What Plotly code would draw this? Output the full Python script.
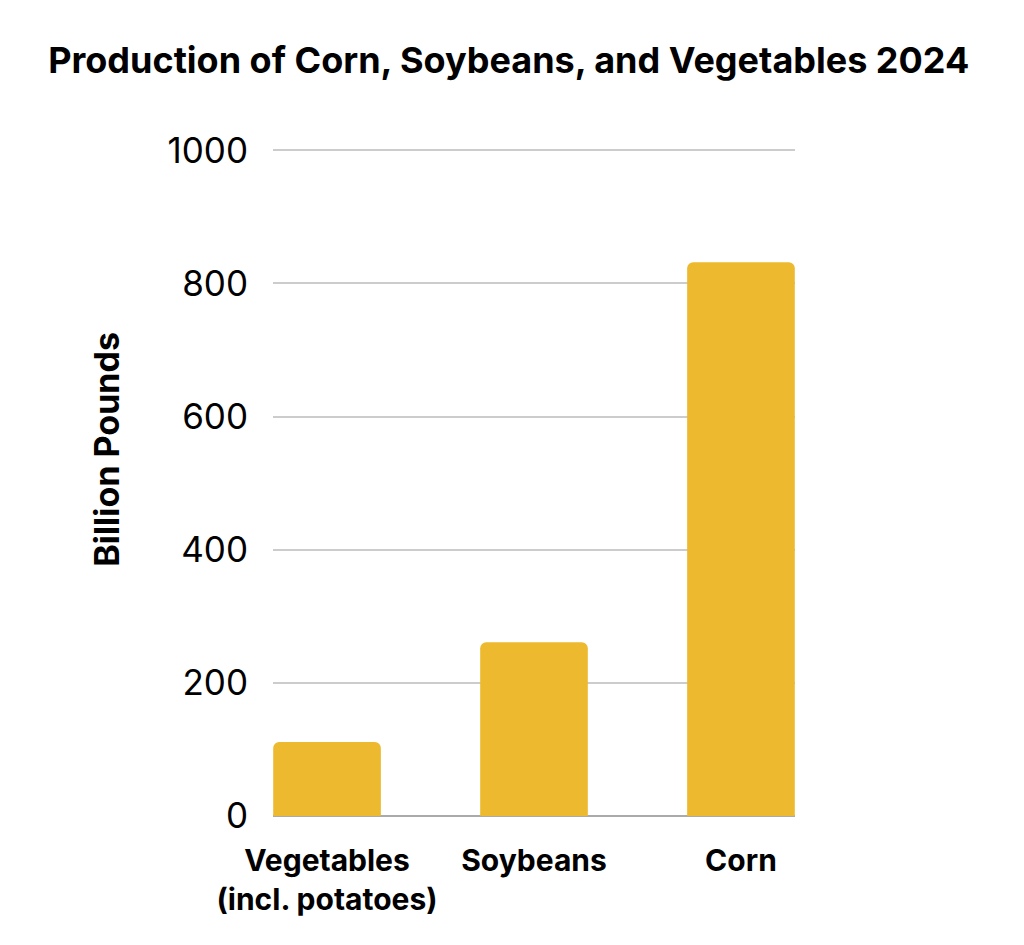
import plotly.graph_objects as go

categories = ["Vegetables<br>(incl. potatoes)", "Soybeans", "Corn"]
values = [111, 261, 832]
y_ticks = [0, 200, 400, 600, 800, 1000]
y_title = "Billion Pounds"

fig = go.Figure()
fig.add_trace(go.Bar(
    x=list(range(len(categories))), y=values,
    marker=dict(color="#EDB92E", line=dict(width=0)),
    width=0.52,
))

fig.update_layout(
    width=1024, height=945,
    paper_bgcolor="white", plot_bgcolor="white",
    margin=dict(l=265, r=237, t=141, b=137),
    barcornerradius=6,
    showlegend=False,
    title=dict(
        text="<b>Production of Corn, Soybeans, and Vegetables 2024</b>",
        x=0.489, xanchor="center", y=1 - 52 / 945, yanchor="middle",
        font=dict(family="Inter", size=36, color="black"),
    ),
    font=dict(family="Inter", color="black"),
)
fig.add_annotation(
    text=f"<b>{y_title}</b>", textangle=-90,
    xref="paper", yref="paper", x=-0.318, y=0.549,
    xanchor="center", yanchor="middle", showarrow=False,
    font=dict(family="Inter", size=34, color="black"),
)
fig.update_xaxes(
    tickmode="array", tickvals=list(range(len(categories))),
    ticktext=[f"<b>{c}</b>" for c in categories],
    range=[-0.261, 2.261],
    showgrid=False, zeroline=False, showline=False,
    tickfont=dict(family="Inter", size=30, color="black"),
    ticks="", ticklabelstandoff=24,
)
fig.update_yaxes(
    range=[0, 1002], tickvals=y_ticks,
    showgrid=True, gridcolor="#cccccc", gridwidth=1.5,
    zeroline=True, zerolinecolor="#aaaaaa", zerolinewidth=1.5,
    showline=False, ticks="",
    tickfont=dict(family="Inter", size=35, color="black"),
    ticklabelstandoff=24,
)

fig.write_html("out.html")
